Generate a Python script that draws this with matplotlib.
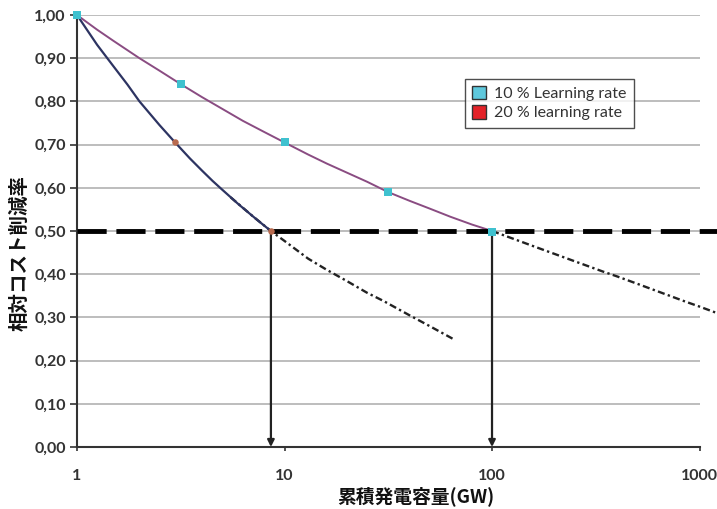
import matplotlib
matplotlib.use("Agg")
import matplotlib.pyplot as plt
from matplotlib.patches import Patch
from matplotlib.ticker import FixedLocator, FuncFormatter

# ---- data ----
lr10_x = [1, 1.25, 1.5, 2, 2.5, 3.16, 4, 5, 6.3, 8, 10, 13, 16, 20, 25,
          31.6, 40, 50, 63, 80, 100]
lr10_y = [1.00, 0.966, 0.94, 0.90, 0.871, 0.84, 0.81, 0.783, 0.755, 0.729,
          0.705, 0.677, 0.656, 0.635, 0.614, 0.59, 0.57, 0.552, 0.533, 0.515, 0.50]
lr10_mx = [1, 3.16, 10, 31.6, 100]
lr10_my = [1.00, 0.84, 0.705, 0.59, 0.497]
lr10_ext_x = [100, 125, 160, 200, 250, 343, 400, 500, 700, 850, 1000, 1214]
lr10_ext_y = [0.50, 0.483, 0.464, 0.447, 0.43, 0.406, 0.395, 0.378, 0.352,
              0.337, 0.325, 0.31]

lr20_x = [1, 1.25, 1.5, 1.75, 2, 2.5, 2.97, 3.5, 4, 4.5, 5, 6, 7, 7.5, 8.6]
lr20_y = [1.00, 0.931, 0.881, 0.839, 0.80, 0.745, 0.705, 0.668, 0.64, 0.616,
          0.596, 0.562, 0.535, 0.523, 0.50]
lr20_mx = [2.97, 8.6]
lr20_my = [0.705, 0.50]
lr20_ext_x = [5.5, 7, 8.6, 10, 13, 16, 20, 25, 30, 40, 50, 65]
lr20_ext_y = [0.578, 0.535, 0.50, 0.477, 0.436, 0.41, 0.384, 0.357, 0.338,
              0.305, 0.28, 0.25]

target = 0.50
arrow_x = [8.6, 100]
yticks = [0.0, 0.1, 0.2, 0.3, 0.4, 0.5, 0.6, 0.7, 0.8, 0.9, 1.0]
xticks = [1, 10, 100, 1000]
legend_labels = ["10 % Learning rate", "20 % learning rate"]

plt.rcParams['font.family'] = ['Noto Sans CJK JP', 'DejaVu Sans']

fig = plt.figure(figsize=(7.17, 5.09), dpi=100)
ax = fig.add_axes([77/717, 62/509, 640/717, 432/509])
ax.set_xscale('log')
ax.set_xlim(1, 1214)
ax.set_ylim(0, 1.0)

# gridlines
ax.hlines(yticks[1:], 1, 1000, colors='#b8b8b8', lw=1.3, zorder=1)

# curves
ax.plot(lr10_x, lr10_y, color='#8a4c82', lw=1.4, zorder=3)
ax.plot(lr20_x, lr20_y, color='#2d3462', lw=1.6, zorder=3)
ax.plot(lr10_ext_x, lr10_ext_y, color='#222222', lw=1.7,
        dashes=(3, 1.4, 1, 1.4), zorder=2, clip_on=False)
ax.plot(lr20_ext_x, lr20_ext_y, color='#222222', lw=1.7,
        dashes=(3, 1.4, 1, 1.4), zorder=2)

# target line
ax.plot([1, 1214], [target, target], color='black', lw=3.5,
        dashes=(6, 2), zorder=4, clip_on=False)

# markers
ax.scatter(lr10_mx, lr10_my, marker='s', s=30, color='#3fc1cf',
           zorder=5, clip_on=False, linewidths=0)
ax.scatter(lr20_mx, lr20_my, marker='o', s=22, color='#b86a4e',
           zorder=5, clip_on=False, linewidths=0)

# arrows
for xa in arrow_x:
    ax.annotate('', xy=(xa, 0.0), xytext=(xa, target),
                arrowprops=dict(arrowstyle='-|>', color='#222222', lw=1.6,
                                mutation_scale=10, shrinkA=0, shrinkB=0),
                zorder=3)

# spines
for s in ['top', 'right']:
    ax.spines[s].set_visible(False)
ax.spines['bottom'].set_bounds(1, 1000)
ax.spines['left'].set_linewidth(1.5)
ax.spines['bottom'].set_linewidth(1.5)
ax.spines['left'].set_color('#333333')
ax.spines['bottom'].set_color('#333333')

ax.xaxis.set_major_locator(FixedLocator(xticks))
ax.xaxis.set_minor_locator(FixedLocator([]))
ax.xaxis.set_major_formatter(FuncFormatter(lambda v, p: f"{int(v)}"))
ax.yaxis.set_major_locator(FixedLocator(yticks))
ax.yaxis.set_major_formatter(FuncFormatter(lambda v, p: f"{v:.2f}".replace('.', ',')))
ax.tick_params(axis='y', direction='out', length=5, width=1.2, color='#333333', pad=3)
ax.tick_params(axis='x', direction='out', length=3, width=1.2, color='#333333', pad=13)
for lab in ax.get_xticklabels() + ax.get_yticklabels():
    lab.set_fontfamily(['Lato', 'DejaVu Sans'])
    lab.set_fontweight('bold')
    lab.set_fontsize(11.5)
    lab.set_color('#333333')

fig.text(416/717, 1 - 496/509, '累積発電容量(GW)', ha='center', va='center',
         fontsize=13.5, fontweight='bold', color='#111111')
fig.text(20/717, 1 - 253/509, '相対コスト削減率', ha='center', va='center',
         rotation=90, fontsize=14, fontweight='bold', color='#111111')

handles = [Patch(facecolor='#5ec8dc', edgecolor='#333333', lw=1),
           Patch(facecolor='#e32228', edgecolor='#333333', lw=1)]
leg = ax.legend(handles, legend_labels, loc='upper left',
                bbox_to_anchor=(0.606, 0.852), frameon=True, fancybox=False,
                edgecolor='#222222', handlelength=0.9, handleheight=0.9,
                handletextpad=0.5, borderpad=0.45, labelspacing=0.25,
                prop={'family': ['Lato', 'DejaVu Sans'], 'size': 11.5},
                borderaxespad=0)
leg.get_frame().set_linewidth(1.0)
leg.set_zorder(6)
for t in leg.get_texts():
    t.set_color('#333333')

fig.savefig('out.png', dpi=100)
